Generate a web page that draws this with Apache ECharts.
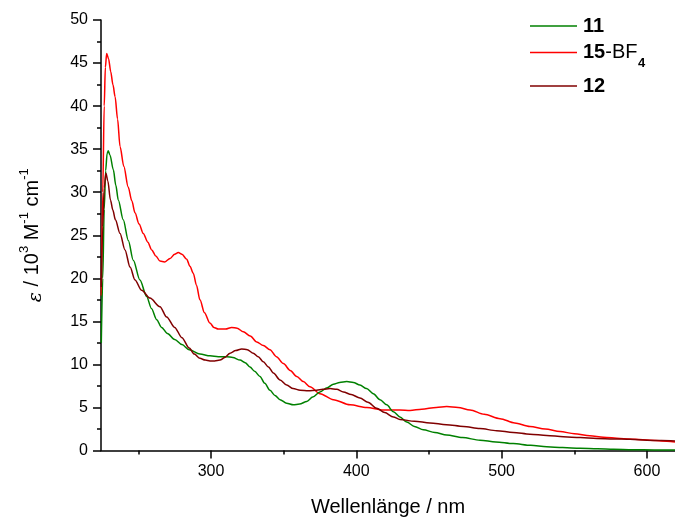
<!DOCTYPE html>
<html>
<head>
<meta charset="utf-8">
<script src="https://cdn.jsdelivr.net/npm/echarts@6/dist/echarts.min.js"></script>
<style>
html,body{margin:0;padding:0;background:#fff;}
#chart{width:675px;height:518px;}
</style>
</head>
<body>
<div id="chart"></div>
<script>
// ---- data ----
const seriesNames = ['11', '15-BF4', '12'];

const wl11 = [224.5, 225.5, 226.5, 227.5, 228.5, 229.3, 230.5, 232.8, 234.5, 236.2, 239.6, 243.1, 246.5, 251.1, 255.7, 259, 262.6, 266, 270, 275, 280, 285, 292.4, 299.3, 305, 310.8, 315, 320, 323.5, 326.8, 330, 333.7, 337, 340.6, 344, 347.5, 352, 356.6, 361, 365.9, 370, 375, 380, 384.2, 388.5, 393.4, 398, 402.5, 407, 411.7, 416.3, 420.9, 425.5, 430, 434.7, 440, 446.1, 454, 462.2, 473, 485.1, 496, 508, 520, 531, 542, 554, 566, 577, 590, 605, 619.3];
const eps11 = [12.5, 20, 28, 32.5, 34.5, 34.8, 34.3, 32.6, 30.8, 29.1, 26.8, 24.4, 22.1, 19.8, 17.9, 16.5, 15.2, 14.3, 13.6, 12.9, 12.3, 11.7, 11.2, 11.0, 10.9, 10.9, 10.8, 10.5, 10.2, 9.7, 9.2, 8.6, 7.8, 7.0, 6.4, 5.9, 5.5, 5.3, 5.4, 5.7, 6.2, 6.8, 7.3, 7.7, 7.9, 8.0, 7.9, 7.6, 7.2, 6.6, 5.9, 5.3, 4.5, 3.9, 3.3, 2.8, 2.4, 2.1, 1.8, 1.5, 1.2, 1.0, 0.8, 0.6, 0.44, 0.34, 0.25, 0.19, 0.14, 0.1, 0.07, 0.05];

const wl15 = [224.5, 225.5, 226.5, 227.3, 228.2, 229.5, 231, 232.5, 234, 235.7, 237.4, 240, 243, 245.5, 247.7, 250.5, 253.4, 256.5, 259.2, 262, 264.9, 268, 271.8, 275, 277.5, 280, 283.3, 285.5, 287.8, 290, 292.4, 295.5, 299.3, 302, 305, 310, 314.2, 318, 322.2, 327, 331.5, 336, 340.6, 345, 349.8, 354.5, 359, 363.5, 368.1, 375, 384.2, 395.7, 407.2, 418.6, 430, 437, 445, 455, 462.2, 470, 478.3, 488, 498.9, 509, 519.5, 530, 540.2, 550, 560.8, 570, 581.5, 592, 602.1, 610, 619.3];
const eps15 = [18, 30, 40, 44.5, 46.1, 45.5, 44, 42.5, 41.1, 38.5, 35.3, 33, 30.6, 29, 27.6, 26.3, 25.2, 24.2, 23.3, 22.6, 22.0, 21.9, 22.3, 22.8, 23.0, 22.8, 22.2, 21.4, 20.6, 19.2, 17.5, 16.0, 14.8, 14.3, 14.1, 14.1, 14.3, 14.2, 13.8, 13.3, 12.6, 12.2, 11.7, 10.9, 10.1, 9.3, 8.6, 8.0, 7.4, 6.6, 5.9, 5.3, 5.0, 4.7, 4.7, 4.65, 4.8, 5.0, 5.1, 5.0, 4.7, 4.2, 3.7, 3.2, 2.8, 2.5, 2.2, 1.95, 1.7, 1.55, 1.4, 1.3, 1.2, 1.1, 1.0];

const wl12 = [224.5, 225.5, 226.5, 227.7, 229, 230.8, 232.5, 234.2, 237.4, 240.8, 244.3, 247.7, 252.3, 258, 264.9, 269.5, 275, 280, 285, 288.5, 292.4, 296, 299.3, 302.5, 306.2, 309.5, 313.1, 317, 321.1, 325, 329.1, 332.5, 336, 339.5, 342.9, 347.5, 352.1, 356.5, 361.3, 367, 372.7, 377, 381.9, 386.5, 391.1, 396.5, 402.5, 408, 414, 419.5, 425.5, 430, 440, 450.7, 462, 473.7, 485, 496.6, 508, 519.5, 531, 542.5, 554, 565.4, 577, 588.4, 600, 610, 619.3];
const eps12 = [19, 26, 30.5, 32.2, 31.3, 29.1, 27.9, 26.8, 25.2, 23.3, 21.3, 19.8, 18.6, 17.7, 16.7, 15.5, 14.3, 13.1, 11.9, 11.2, 10.7, 10.5, 10.4, 10.4, 10.5, 10.8, 11.3, 11.6, 11.8, 11.7, 11.3, 10.9, 10.3, 9.7, 9.0, 8.2, 7.6, 7.2, 7.0, 6.95, 7.0, 7.1, 7.2, 7.1, 6.8, 6.5, 6.1, 5.6, 4.9, 4.4, 3.9, 3.6, 3.4, 3.2, 3.0, 2.8, 2.55, 2.3, 2.1, 1.9, 1.75, 1.6, 1.5, 1.4, 1.35, 1.3, 1.2, 1.15, 1.1];

const xMajorTicks = [300, 400, 500, 600];
const xMinorTicks = [250, 350, 450, 550];
const xRange = [224.3, 619.3];
const yRange = [0, 50];

const colors = ['#008000', '#ff0000', '#800000'];

function pairs(xs, ys) { return xs.map((x, i) => [x, ys[i]]); }

const FONT = '"Liberation Sans", Arial, sans-serif';
const chart = echarts.init(document.getElementById('chart'), null, {renderer: 'canvas'});

const axisLineStyle = {color: '#000', width: 1.5};

const option = {
  animation: false,
  backgroundColor: '#fff',
  grid: {left: 101, right: 0, top: 20, bottom: 67.5, containLabel: false, outerBoundsMode: 'none'},
  xAxis: [
    {
      type: 'value', min: xRange[0], max: xRange[1],
      name: 'Wellenlänge / nm', nameLocation: 'middle', nameGap: 47,
      nameTextStyle: {fontFamily: FONT, fontSize: 20, color: '#000'},
      axisLine: {show: true, onZero: false, lineStyle: axisLineStyle},
      axisTick: {show: true, inside: false, length: 8, lineStyle: {color: '#000', width: 1.5}, customValues: xMajorTicks},
      axisLabel: {show: true, fontFamily: FONT, fontSize: 16, color: '#000', margin: 13, customValues: xMajorTicks},
      splitLine: {show: false}
    },
    {
      type: 'value', min: xRange[0], max: xRange[1], position: 'bottom',
      axisLine: {show: false, onZero: false},
      axisTick: {show: true, inside: false, length: 4, lineStyle: {color: '#000', width: 1.5}, customValues: xMinorTicks},
      axisLabel: {show: false},
      splitLine: {show: false}
    }
  ],
  yAxis: {
    type: 'value', min: yRange[0], max: yRange[1], interval: 5,
    name: '{e|ε} / 10{sup|3} M{sup|-1} cm{sup|-1}',
    nameLocation: 'middle', nameGap: 55, nameRotate: 90,
    nameTextStyle: {
      fontFamily: FONT, fontSize: 20, color: '#000',
      rich: {
        e: {fontFamily: '"DejaVu Serif", serif', fontStyle: 'italic', fontSize: 19, color: '#000', lineHeight: 28, verticalAlign: 'bottom'},
        sup: {fontFamily: FONT, fontSize: 13, color: '#000', lineHeight: 28, verticalAlign: 'top'}
      }
    },
    axisLine: {show: true, onZero: false, lineStyle: axisLineStyle},
    axisTick: {show: true, inside: false, length: 8, lineStyle: {color: '#000', width: 1.5}},
    minorTick: {show: true, splitNumber: 2, length: 4, lineStyle: {color: '#000', width: 1.5}},
    axisLabel: {fontFamily: FONT, fontSize: 16, color: '#000', margin: 13},
    splitLine: {show: false},
    minorSplitLine: {show: false}
  },
  series: [
    {name: seriesNames[0], type: 'line', data: pairs(wl11, eps11), showSymbol: false, smooth: 0.3, smoothMonotone: 'x', lineStyle: {color: colors[0], width: 1.5}, itemStyle: {color: colors[0]}, z: 3},
    {name: seriesNames[1], type: 'line', data: pairs(wl15, eps15), showSymbol: false, smooth: 0.3, smoothMonotone: 'x', lineStyle: {color: colors[1], width: 1.5}, itemStyle: {color: colors[1]}, z: 2},
    {name: seriesNames[2], type: 'line', data: pairs(wl12, eps12), showSymbol: false, smooth: 0.3, smoothMonotone: 'x', lineStyle: {color: colors[2], width: 1.5}, itemStyle: {color: colors[2]}, z: 4}
  ],
  graphic: [
    {type: 'line', shape: {x1: 530, y1: 26, x2: 577, y2: 26}, style: {stroke: colors[0], lineWidth: 1.5}},
    {type: 'text', left: 583, top: 16, style: {text: '11', fontFamily: FONT, fontSize: 20, fontWeight: 'bold', fill: '#000'}},
    {type: 'line', shape: {x1: 530, y1: 52.5, x2: 577, y2: 52.5}, style: {stroke: colors[1], lineWidth: 1.5}},
    {type: 'text', left: 583, top: 42.5, style: {
      text: '{b|15}{n|-BF}', fontFamily: FONT, fill: '#000',
      rich: {b: {fontFamily: FONT, fontSize: 20, fontWeight: 'bold', fill: '#000'}, n: {fontFamily: FONT, fontSize: 20, fill: '#000'}}
    }},
    {type: 'text', left: 638, top: 57, style: {text: '4', fontFamily: FONT, fontSize: 13, fontWeight: 'bold', fill: '#000'}},
    {type: 'line', shape: {x1: 530, y1: 86, x2: 577, y2: 86}, style: {stroke: colors[2], lineWidth: 1.5}},
    {type: 'text', left: 583, top: 76, style: {text: '12', fontFamily: FONT, fontSize: 20, fontWeight: 'bold', fill: '#000'}}
  ]
};
chart.setOption(option);
</script>
</body>
</html>
